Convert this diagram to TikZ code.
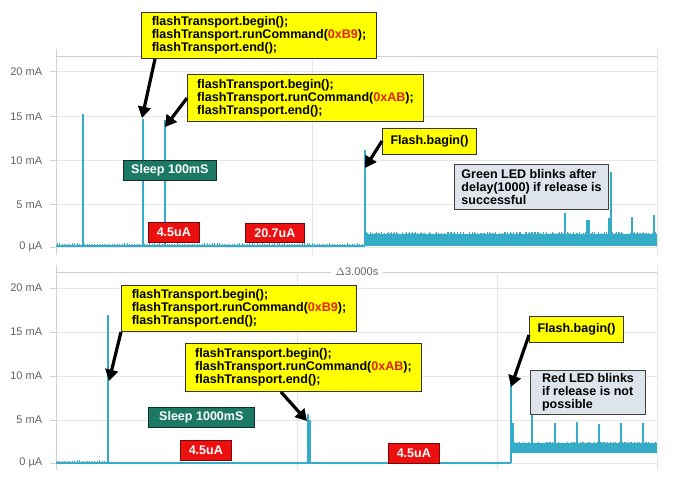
\documentclass[tikz,border=0pt]{standalone}
\usepackage{fontspec}
\setmainfont{Liberation Sans}
\usetikzlibrary{arrows.meta}

\definecolor{trace}{RGB}{52,172,200}
\definecolor{gridc}{RGB}{230,230,230}
\definecolor{axisc}{RGB}{208,208,208}
\definecolor{tickc}{RGB}{100,100,100}
\definecolor{codey}{RGB}{255,255,0}
\definecolor{hexred}{RGB}{226,34,12}
\definecolor{sleepg}{RGB}{28,122,100}
\definecolor{curred}{RGB}{236,16,16}
\definecolor{ledbox}{RGB}{221,228,236}

\newcommand{\flashcode}[1]{flashTransport.begin();\\flashTransport.runCommand(\textcolor{hexred}{#1});\\flashTransport.end();}

\begin{document}
\begin{tikzpicture}[x=0.75pt,y=-0.75pt,
	lbl/.style={font=\fontsize{8.3}{9}\selectfont, text=tickc},
	grid/.style={gridc, line width=0.75pt},
	axis/.style={axisc, line width=0.75pt},
	sig/.style={trace, line width=1pt},
	noise/.style={trace, line width=0.5pt},
	codebox/.style={draw=black!80, fill=codey, line width=0.75pt, anchor=north west, align=left, inner sep=0pt, font=\bfseries\fontsize{9.4}{9.75}\selectfont},
	sleepbox/.style={draw=black!60!sleepg, fill=sleepg, text=white, line width=0.5pt, anchor=north west, inner sep=0pt, font=\bfseries\fontsize{9.4}{9.75}\selectfont},
	curbox/.style={draw=black!50!curred, fill=curred, text=white, line width=0.5pt, anchor=north west, inner sep=0pt, font=\bfseries\fontsize{9.4}{9.75}\selectfont},
	ledtxt/.style={draw=black!75, fill=ledbox, line width=0.75pt, anchor=north west, align=left, inner sep=0pt, font=\bfseries\fontsize{9.4}{9.75}\selectfont},
	arr/.style={line width=2.4pt, -{Triangle[length=8.5pt,width=9.5pt]}}]
	\useasboundingbox[fill=white] (0,0) rectangle (690,492);

	% --- panneau du haut: grille et axes
	\foreach \y/\t in {72/20 mA,117/15 mA,161/10 mA,205/5 mA,247/0 µA} {
		\draw[grid] (56,\y) -- (657,\y);
		\draw[axis] (50,\y) -- (56,\y);
		\node[lbl, anchor=east] (ya\y) at (47,\y) {\t};
	}
	\draw[axis] (56,57) -- (657,57);
	\draw[axis] (56,49) -- (56,255);
	\draw[grid] (657,49) -- (657,255);
	\draw[grid] (312,57) -- (312,255);

	% --- panneau du bas: grille et axes
	\foreach \y/\t in {288/20 mA,332/15 mA,376/10 mA,420/5 mA,463/0 µA} {
		\draw[grid] (56,\y) -- (657,\y);
		\draw[axis] (50,\y) -- (56,\y);
		\node[lbl, anchor=east] (yb\y) at (47,\y) {\t};
	}
	\node[lbl] (delta) at (357,272) {$\Delta$3.000s};
	\draw[axis] (56,272) -- (delta.west);
	\draw[axis] (delta.east) -- (657,272);
	\draw[axis] (56,265) -- (56,470);
	\draw[grid] (657,265) -- (657,470);
	\draw[grid] (297,272) -- (297,470);
	\draw[grid] (497,272) -- (497,470);

	% --- courbe du haut
	\pgfmathsetseed{11}
	\draw[sig] (56,246) -- (365,246);
	\foreach \x in {57,59.5,...,362} {
		\draw[noise] (\x,246) -- (\x,{244.5-1.5*rnd});
	}
	\draw[sig] (83,246) -- (83,114);
	\draw[sig] (143,246) -- (143,119);
	\draw[sig] (165,246) -- (165,120);
	\draw[sig] (365,246) -- (365,150);
	\fill[trace] (365,234) rectangle (657,246);
	\foreach \x in {366,367.5,...,656} {
		\draw[noise] (\x,246) -- (\x,{231.5+3*rnd});
	}
	\foreach \x/\h in {565/213,587/220,589/220,609/218,611/172,632/217,654/215} {
		\draw[sig] (\x,240) -- (\x,\h);
	}

	% --- courbe du bas
	\draw[sig] (56,463) -- (511,463);
	\foreach \x in {57,59.5,...,106} {
		\draw[noise] (\x,463) -- (\x,{461.5-1.5*rnd});
	}
	\draw[sig] (108,463) -- (108,315);
	\draw[sig] (308,463) -- (308,414);
	\draw[sig] (310,463) -- (310,420);
	\draw[sig] (511,463) -- (511,378);
	\draw[sig] (513,448) -- (513,423);
	\fill[trace] (512,443) rectangle (657,453);
	\foreach \x in {513,514.5,...,656} {
		\draw[noise] (\x,453) -- (\x,{441.5+2*rnd});
	}
	\foreach \x/\h in {532/413,555/423,577/422,599/424,621/423,643/423} {
		\draw[sig] (\x,446) -- (\x,\h);
	}

	% --- pointes visees par les fleches
	\coordinate (p1) at (142,118);
	\coordinate (p2) at (165,127);
	\coordinate (p3) at (365,168);
	\coordinate (q1) at (109,381);
	\coordinate (q2) at (307,421);
	\coordinate (q3) at (511,387);

	% --- etiquettes du haut
	\node[codebox, minimum width=235*0.75pt, minimum height=46*0.75pt] (cmdB9) at (141,12) {\flashcode{0xB9}};
	\node[codebox, minimum width=236*0.75pt, minimum height=47*0.75pt] (cmdAB) at (187,74) {\flashcode{0xAB}};
	\node[sleepbox, minimum width=93*0.75pt, minimum height=20*0.75pt] (sleepA) at (123,160) {Sleep 100mS};
	\node[curbox, minimum width=51*0.75pt, minimum height=20*0.75pt] (curA) at (148,222) {4.5uA};
	\node[curbox, minimum width=59*0.75pt, minimum height=19*0.75pt] (curB) at (245,223) {20.7uA};
	\node[codebox, minimum width=94*0.75pt, minimum height=26*0.75pt] (flashA) at (382,128) {Flash.bagin()};
	\node[ledtxt, minimum width=154*0.75pt, minimum height=45*0.75pt] (ledA) at (454,164) {Green LED blinks after\\delay(1000) if release is\\successful};

	% --- etiquettes du bas
	\node[codebox, minimum width=235*0.75pt, minimum height=46*0.75pt] (cmdB9b) at (121,285) {\flashcode{0xB9}};
	\node[codebox, minimum width=236*0.75pt, minimum height=48*0.75pt] (cmdABb) at (185,343) {\flashcode{0xAB}};
	\node[sleepbox, minimum width=106*0.75pt, minimum height=20*0.75pt] (sleepB) at (148,407) {Sleep 1000mS};
	\node[curbox, minimum width=51*0.75pt, minimum height=20*0.75pt] (curC) at (180,440) {4.5uA};
	\node[curbox, minimum width=51*0.75pt, minimum height=20*0.75pt] (curD) at (388,443) {4.5uA};
	\node[codebox, minimum width=94*0.75pt, minimum height=26*0.75pt] (flashB) at (529,316) {Flash.bagin()};
	\node[ledtxt, minimum width=115*0.75pt, minimum height=44*0.75pt] (ledB) at (530,370) {Red LED blinks\\if release is not\\possible};

	% --- fleches
	\draw[arr] ([xshift=14*0.75pt]cmdB9.south west) -- (p1);
	\draw[arr] ([yshift=-24*0.75pt]cmdAB.north west) -- (p2);
	\draw[arr] ([yshift=-13*0.75pt]flashA.north west) -- (p3);
	\draw[arr] (cmdB9b.south west) -- (q1);
	\draw[arr] ([xshift=96*0.75pt]cmdABb.south west) -- (q2);
	\draw[arr] ([yshift=-19*0.75pt]flashB.north west) -- (q3);
\end{tikzpicture}
\end{document}
